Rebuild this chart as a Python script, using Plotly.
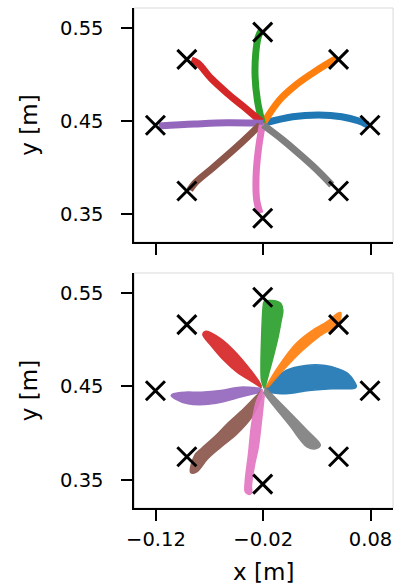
import plotly.graph_objects as go

# ---------------- data ----------------
colors = ["#1f77b4", "#ff7f0e", "#2ca02c", "#d62728",
          "#9467bd", "#8c564b", "#e377c2", "#7f7f7f"]

target_x = [0.0795, 0.0502, -0.0205, -0.0912, -0.1205, -0.0912, -0.0205, 0.0502]
target_y = [0.4455, 0.5162, 0.5455, 0.5162, 0.4455, 0.3748, 0.3455, 0.3748]

# top panel: one representative trajectory per direction
top_x = [
    [-0.02, 0.0074, 0.0318, 0.0531, 0.0684, 0.0775],
    [-0.02, -0.0048, 0.0104, 0.0257, 0.0378, 0.0485],
    [-0.0209, -0.0255, -0.0276, -0.0270, -0.0246, -0.0216],
    [-0.0216, -0.0383, -0.0535, -0.0687, -0.0809, -0.0869],
    [-0.02, -0.0535, -0.0839, -0.1174],
    [-0.023, -0.0444, -0.0657, -0.0839, -0.0885],
    [-0.0209, -0.0246, -0.0267, -0.0261, -0.023],
    [-0.02, -0.0017, 0.0165, 0.0318, 0.0439],
]
top_y = [
    [0.4475, 0.4546, 0.4565, 0.4546, 0.4503, 0.4457],
    [0.4475, 0.4726, 0.4887, 0.5013, 0.5102, 0.5174],
    [0.4475, 0.4726, 0.4976, 0.5228, 0.5406, 0.5478],
    [0.4492, 0.4654, 0.4798, 0.4959, 0.5120, 0.5156],
    [0.4475, 0.4482, 0.4468, 0.4446],
    [0.4457, 0.4224, 0.4009, 0.3830, 0.3758],
    [0.4457, 0.4188, 0.3901, 0.3651, 0.3508],
    [0.4457, 0.4296, 0.4116, 0.3955, 0.3812],
]

# bottom panel: outline of each bundle of trajectories
bundle_x = [
    [-0.0182, -0.0139, 0.0013, 0.0195, 0.0378, 0.0500, 0.0592, 0.0652, 0.0668,
     0.0652, 0.0592, 0.0439, 0.0226, 0.0013, -0.0145],
    [-0.0182, -0.0063, 0.0104, 0.0257, 0.0409, 0.0485, 0.0521,
     0.0500, 0.0332, 0.0165, -0.0017, -0.0154],
    [-0.0191, -0.0216, -0.0221, -0.0216, -0.0209, -0.0200, -0.0191, -0.0127, -0.0063,
     -0.0036, -0.0017, -0.0033, -0.0063, -0.0109, -0.0154, -0.0182],
    [-0.0216, -0.0246, -0.0352, -0.0474, -0.0595, -0.0732,
     -0.0763, -0.0687, -0.0565, -0.0444, -0.0321, -0.0216],
    [-0.0218, -0.0413, -0.0595, -0.0778, -0.0931, -0.1037,
     -0.1058, -0.1022, -0.0900, -0.0748, -0.0595, -0.0413, -0.0230],
    [-0.0209, -0.0261, -0.0383, -0.0535, -0.0657, -0.0778, -0.0839, -0.0876,
     -0.0824, -0.0718, -0.0595, -0.0444, -0.0307, -0.0216],
    [-0.0209, -0.0261, -0.0307, -0.0337, -0.0367, -0.0367, -0.0337, -0.0310,
     -0.0310, -0.0282, -0.0246, -0.0216, -0.0191],
    [-0.0184, -0.0063, 0.0089, 0.0211, 0.0318, 0.0332,
     0.0287, 0.0211, 0.0150, 0.0058, -0.0093, -0.0200],
]
bundle_y = [
    [0.4479, 0.4529, 0.4671, 0.4725, 0.4725, 0.4689, 0.4636, 0.4546, 0.4500,
     0.4479, 0.4475, 0.4475, 0.4457, 0.4422, 0.4436],
    [0.4479, 0.4706, 0.4957, 0.5099, 0.5206, 0.5278, 0.5291,
     0.5171, 0.5045, 0.4885, 0.4671, 0.4493],
    [0.4479, 0.4564, 0.4746, 0.4992, 0.5206, 0.5366, 0.5409, 0.5420, 0.5409,
     0.5388, 0.5313, 0.5206, 0.5024, 0.4810, 0.4618, 0.4500],
    [0.4500, 0.4564, 0.4725, 0.4885, 0.5010, 0.5091,
     0.5056, 0.4939, 0.4778, 0.4653, 0.4564, 0.4486],
    [0.4479, 0.4493, 0.4457, 0.4439, 0.4439, 0.4422,
     0.4404, 0.4368, 0.4315, 0.4307, 0.4332, 0.4386, 0.4439],
    [0.4468, 0.4404, 0.4261, 0.4101, 0.3958, 0.3834, 0.3762, 0.3580,
     0.3583, 0.3727, 0.3851, 0.3994, 0.4172, 0.4386],
    [0.4468, 0.4350, 0.4101, 0.3780, 0.3495, 0.3370, 0.3345, 0.3356,
     0.3441, 0.3655, 0.3851, 0.4136, 0.4404],
    [0.4493, 0.4350, 0.4172, 0.4029, 0.3904, 0.3869,
     0.3834, 0.3851, 0.3922, 0.4065, 0.4279, 0.4439],
]

x_ticks = [-0.12, -0.02, 0.08]
x_tick_text = ["\u22120.12", "\u22120.02", "0.08"]
y_ticks = [0.35, 0.45, 0.55]
y_tick_text = ["0.35", "0.45", "0.55"]

# ---------------- figure ----------------
fig = go.Figure()

for i in range(8):
    fig.add_trace(go.Scatter(x=top_x[i], y=top_y[i], mode="lines",
                             line=dict(color=colors[i], width=7, shape="spline"),
                             xaxis="x", yaxis="y", showlegend=False, hoverinfo="skip"))
for i in range(8):
    fig.add_trace(go.Scatter(x=bundle_x[i], y=bundle_y[i], mode="lines",
                             fill="toself", fillcolor=colors[i],
                             line=dict(color=colors[i], width=1.5, shape="spline"),
                             opacity=0.92,
                             xaxis="x2", yaxis="y2", showlegend=False, hoverinfo="skip"))

for xa, ya in (("x", "y"), ("x2", "y2")):
    fig.add_trace(go.Scatter(x=target_x, y=target_y, mode="markers",
                             marker=dict(symbol="x-thin", size=19,
                                         line=dict(color="black", width=3)),
                             xaxis=xa, yaxis=ya, showlegend=False, hoverinfo="skip"))

font = dict(family="DejaVu Sans", size=19.5, color="black")
title_font = dict(family="DejaVu Sans", size=23, color="black")
W, H = 396, 585
xdom = [129 / W, 393 / W]
ydom_top = [1 - 242 / H, 1 - 8 / H]
ydom_bot = [1 - 508 / H, 1 - 273 / H]
xr = [-0.1401, 0.1010]
yr = [0.3199, 0.5715]

axis_common = dict(showgrid=False, zeroline=False, showline=True, linecolor="black",
                   linewidth=2, ticks="outside", ticklen=11, tickwidth=2,
                   tickcolor="black", tickfont=font, mirror=False)

fig.update_layout(
    width=W, height=H, margin=dict(l=0, r=0, t=0, b=0),
    paper_bgcolor="white", plot_bgcolor="white",
    xaxis=dict(domain=xdom, range=xr, anchor="y", tickvals=x_ticks,
               showticklabels=False, **axis_common),
    yaxis=dict(domain=ydom_top, range=yr, anchor="x", tickvals=y_ticks,
               ticktext=y_tick_text, ticklabelstandoff=14,
               title=dict(text="y [m]", font=title_font, standoff=16),
               **axis_common),
    xaxis2=dict(domain=xdom, range=xr, anchor="y2", tickvals=x_ticks,
                ticktext=x_tick_text, ticklabelstandoff=2,
                title=dict(text="x [m]", font=title_font, standoff=16),
                **axis_common),
    yaxis2=dict(domain=ydom_bot, range=yr, anchor="x2", tickvals=y_ticks,
                ticktext=y_tick_text, ticklabelstandoff=14,
                title=dict(text="y [m]", font=title_font, standoff=16),
                **axis_common),
)

for xa, ya in (("x", "y"), ("x2", "y2")):
    fig.add_shape(type="rect", xref=f"{xa} domain", yref=f"{ya} domain",
                  x0=0, x1=1, y0=0, y1=1, line=dict(color="#d9d9d9", width=1),
                  layer="below")

fig.write_html("out.html")
